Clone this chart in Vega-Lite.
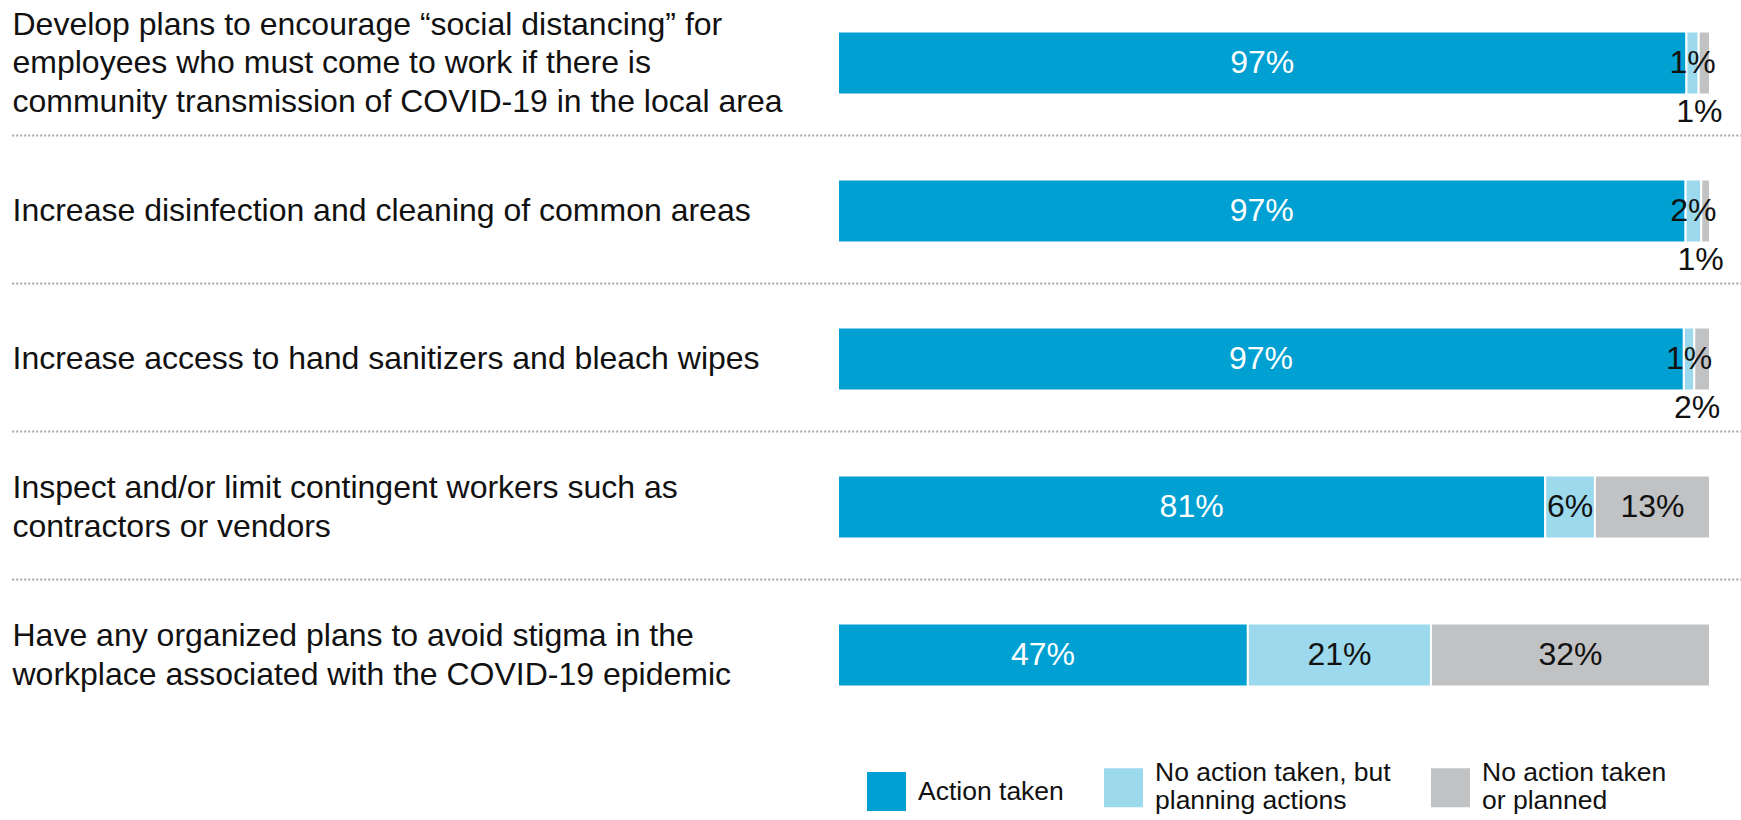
{
  "$schema": "https://vega.github.io/schema/vega-lite/v6.json",
  "width": 872,
  "height": 729,
  "padding": {"left": 11, "top": 0, "right": 0, "bottom": 0},
  "background": "white",
  "config": {"view": {"stroke": null}, "font": "Liberation Sans"},
  "data": {"values": [
    {"category": "Develop plans to encourage “social distancing” for employees who must come to work if there is community transmission of COVID-19 in the local area", "status": "Action taken", "code": 1, "value": 0.973},
    {"category": "Develop plans to encourage “social distancing” for employees who must come to work if there is community transmission of COVID-19 in the local area", "status": "No action taken, but planning actions", "code": 2, "value": 0.014},
    {"category": "Develop plans to encourage “social distancing” for employees who must come to work if there is community transmission of COVID-19 in the local area", "status": "No action taken or planned", "code": 3, "value": 0.013},
    {"category": "Increase disinfection and cleaning of common areas", "status": "Action taken", "code": 1, "value": 0.972},
    {"category": "Increase disinfection and cleaning of common areas", "status": "No action taken, but planning actions", "code": 2, "value": 0.018},
    {"category": "Increase disinfection and cleaning of common areas", "status": "No action taken or planned", "code": 3, "value": 0.010},
    {"category": "Increase access to hand sanitizers and bleach wipes", "status": "Action taken", "code": 1, "value": 0.970},
    {"category": "Increase access to hand sanitizers and bleach wipes", "status": "No action taken, but planning actions", "code": 2, "value": 0.012},
    {"category": "Increase access to hand sanitizers and bleach wipes", "status": "No action taken or planned", "code": 3, "value": 0.018},
    {"category": "Inspect and/or limit contingent workers such as contractors or vendors", "status": "Action taken", "code": 1, "value": 0.811},
    {"category": "Inspect and/or limit contingent workers such as contractors or vendors", "status": "No action taken, but planning actions", "code": 2, "value": 0.057},
    {"category": "Inspect and/or limit contingent workers such as contractors or vendors", "status": "No action taken or planned", "code": 3, "value": 0.132},
    {"category": "Have any organized plans to avoid stigma in the workplace associated with the COVID-19 epidemic", "status": "Action taken", "code": 1, "value": 0.47},
    {"category": "Have any organized plans to avoid stigma in the workplace associated with the COVID-19 epidemic", "status": "No action taken, but planning actions", "code": 2, "value": 0.21},
    {"category": "Have any organized plans to avoid stigma in the workplace associated with the COVID-19 epidemic", "status": "No action taken or planned", "code": 3, "value": 0.32}
  ]},
  "encoding": {
    "y": {
      "field": "category",
      "type": "nominal",
      "sort": null,
      "scale": {
        "domain": [
          "Develop plans to encourage “social distancing” for employees who must come to work if there is community transmission of COVID-19 in the local area",
          "Increase disinfection and cleaning of common areas",
          "Increase access to hand sanitizers and bleach wipes",
          "Inspect and/or limit contingent workers such as contractors or vendors",
          "Have any organized plans to avoid stigma in the workplace associated with the COVID-19 epidemic"
        ],
        "range": [-11, 729],
        "paddingInner": 0,
        "paddingOuter": 0
      },
      "axis": {
        "title": null,
        "domain": false,
        "ticks": false,
        "labelAlign": "left",
        "labelBaseline": "middle",
        "labelPadding": 826,
        "labelFontSize": 32,
        "labelFont": "Liberation Sans",
        "labelColor": "#111111",
        "labelLimit": 0,
        "labelLineHeight": 38.5,
        "labelOffset": {
          "condition": [
            {"test": "indexof(datum.value, 'Develop plans') == 0", "value": -38.5},
            {"test": "indexof(datum.value, 'Inspect and') == 0 || indexof(datum.value, 'Have any') == 0", "value": -19}
          ],
          "value": 0
        },
        "labelExpr": "indexof(datum.label, 'Develop plans') == 0 ? ['Develop plans to encourage “social distancing” for', 'employees who must come to work if there is', 'community transmission of COVID-19 in the local area'] : indexof(datum.label, 'Inspect and') == 0 ? ['Inspect and/or limit contingent workers such as', 'contractors or vendors'] : indexof(datum.label, 'Have any') == 0 ? ['Have any organized plans to avoid stigma in the', 'workplace associated with the COVID-19 epidemic'] : datum.label"
      }
    }
  },
  "layer": [
    {
      "transform": [{"filter": "datum.code == 1 && indexof(datum.category, 'Have any') != 0"}],
      "mark": {"type": "rule", "color": "#a5a5a5", "strokeWidth": 2, "strokeDash": [2, 2], "yOffset": -1.5},
      "encoding": {
        "y": {"field": "category", "type": "nominal", "bandPosition": 1},
        "x": {"datum": -0.947, "type": "quantitative", "scale": {"domain": [0, 1], "nice": false, "zero": false}, "axis": null},
        "x2": {"datum": 1.0367}
      }
    },
    {
      "mark": {"type": "bar", "height": {"band": 0.425}, "stroke": "white", "strokeWidth": 2},
      "encoding": {
        "x": {"field": "value", "type": "quantitative", "stack": "zero", "scale": {"domain": [0, 1], "nice": false, "zero": false}, "axis": null},
        "order": {"field": "code"},
        "color": {
          "field": "status",
          "type": "nominal",
          "scale": {
            "domain": ["Action taken", "No action taken, but planning actions", "No action taken or planned"],
            "range": ["#00a0d2", "#9cd9ed", "#c1c2c4"]
          },
          "legend": {
            "title": null,
            "orient": "none",
            "legendX": 29,
            "legendY": 768,
            "direction": "horizontal",
            "symbolType": "square",
            "symbolSize": 1521,
            "symbolStrokeWidth": 0,
            "symbolOpacity": 1,
            "labelFontSize": 26.5,
            "labelFont": "Liberation Sans",
            "labelColor": "#111111",
            "labelLimit": 0,
            "labelOffset": 12,
            "labelBaseline": {"expr": "datum.value == 'Action taken' ? 'middle' : 'line-bottom'"},
            "columnPadding": 40,
            "padding": 0,
            "labelExpr": "datum.label == 'No action taken, but planning actions' ? ['No action taken, but', 'planning actions'] : datum.label == 'No action taken or planned' ? ['No action taken', 'or planned'] : datum.label"
          }
        }
      }
    },
    {
      "mark": {"type": "text", "fontSize": 32, "font": "Liberation Sans", "align": "center", "baseline": "middle"},
      "encoding": {
        "x": {"field": "value", "type": "quantitative", "stack": "zero", "bandPosition": 0.5, "scale": {"domain": [0, 1], "nice": false, "zero": false}, "axis": null},
        "detail": {"field": "status"},
        "order": {"field": "code"},
        "text": {"field": "value", "format": ".0%"},
        "color": {"condition": {"test": "datum.code == 1", "value": "white"}, "value": "#111111"},
        "opacity": {"condition": {"test": "datum.code == 3 && datum.value < 0.05", "value": 0}, "value": 1}
      }
    },
    {
      "mark": {"type": "text", "fontSize": 32, "font": "Liberation Sans", "align": "center", "baseline": "middle", "dy": 49, "dx": -5},
      "encoding": {
        "x": {"field": "value", "type": "quantitative", "stack": "zero", "bandPosition": 0.5, "scale": {"domain": [0, 1], "nice": false, "zero": false}, "axis": null},
        "detail": {"field": "status"},
        "order": {"field": "code"},
        "text": {"field": "value", "format": ".0%"},
        "color": {"value": "#111111"},
        "opacity": {"condition": {"test": "datum.code == 3 && datum.value < 0.05", "value": 1}, "value": 0}
      }
    }
  ]
}
